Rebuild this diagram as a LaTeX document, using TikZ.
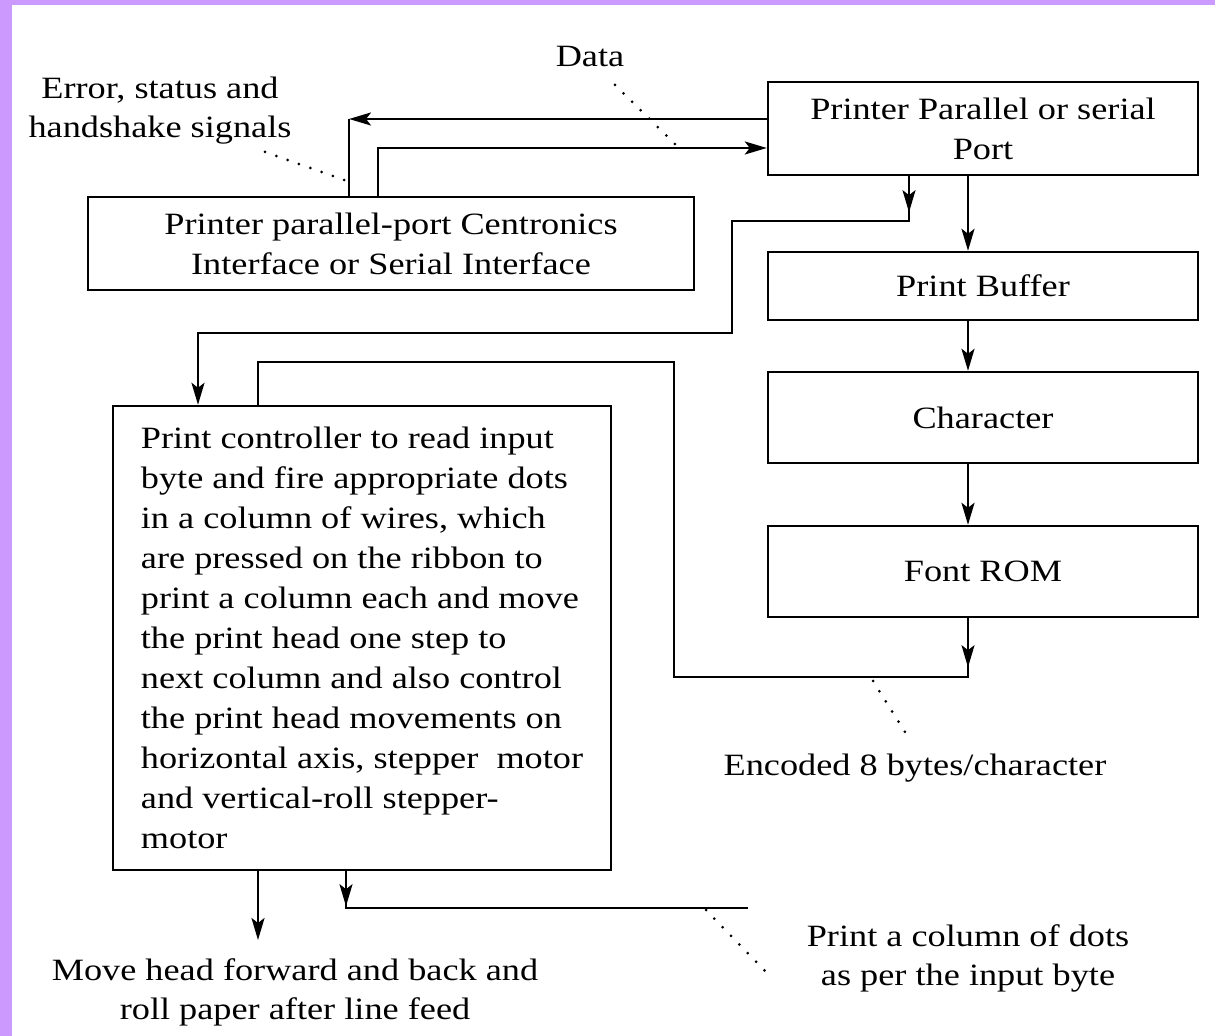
\documentclass[tikz,border=0pt]{standalone}
\usepackage{fontspec}
\setmainfont{Liberation Serif}[FakeStretch=1.17]
\usetikzlibrary{arrows.meta,calc}
\definecolor{framepurple}{RGB}{204,153,255}

\begin{document}
\begin{tikzpicture}[x=0.5pt,y=-0.5pt,
	box/.style={draw, line width=1.2pt, inner sep=0pt, align=center, font=\fontsize{15.5}{20}\selectfont},
	lbl/.style={inner sep=0pt, align=center, font=\fontsize{15.5}{19.5}\selectfont},
	wire/.style={line width=1.2pt},
	arr/.style={line width=1.2pt, -{Stealth[length=11pt,width=6.5pt,inset=2.5pt]}},
	leader/.style={line width=1.5pt, dash pattern=on 0pt off 6pt, line cap=round}]
			%%%%% START %%%%%
			
			\useasboundingbox (0, 0) rectangle (1215, 1036);
			\fill[white] (0, 0) rectangle (1215, 1036);
			\fill[framepurple] (0, 0) rectangle (1215, 5);
			\fill[framepurple] (0, 0) rectangle (12, 1036);
			
			\node[box, minimum width=215pt, minimum height=46.5pt] (port) at (983, 128.5) {Printer Parallel or serial\\Port};
			\node[box, minimum width=303pt, minimum height=46.5pt] (iface) at (391, 243.5) {Printer parallel-port Centronics\\Interface or Serial Interface};
			\node[box, minimum width=215pt, minimum height=34pt] (buffer) at (983, 286) {Print Buffer};
			\node[box, minimum width=215pt, minimum height=45.5pt] (charbox) at (983, 417.5) {Character};
			\node[box, minimum width=215pt, minimum height=45.5pt] (fontrom) at (983, 571.5) {Font ROM};
			\node[box, align=left, minimum width=249pt, minimum height=232pt] (ctrl) at (362, 638) {Print controller to read input\\byte and fire appropriate dots\\in a column of wires, which\\are pressed on the ribbon to\\print a column each and move\\the print head one step to\\next column and also control\\the print head movements on\\horizontal axis, stepper\ \ motor\\and vertical-roll stepper-\\motor};
			
			\node[lbl] (errlbl) at (160, 111) {Error, status and\\handshake signals};
			\node[lbl] (datalbl) at (590, 57) {Data};
			\node[lbl] (enclbl) at (915, 768) {Encoded 8 bytes/character};
			\node[lbl] (dotlbl) at (968, 958) {Print a column of dots\\as per the input byte};
			\node[lbl] (movelbl) at (295, 992) {Move head forward and back and\\roll paper after line feed};
			
			\coordinate (c1) at (349, 119);
			\coordinate (c2) at (378, 148);
			\coordinate (c3) at (968, 677);
			\coordinate (c4) at (674, 362);
			\coordinate (c5) at (258, 362);
			\coordinate (c6) at (909, 221);
			\coordinate (c7) at (732, 333);
			\coordinate (c8) at (198, 333);
			\coordinate (c9) at (258, 940);
			\coordinate (c10) at (346, 908);
			\coordinate (c11) at (748, 908);
			
			% port and interface
			\draw[arr] (port.west |- c1) -- (c1);
			\draw[wire] (c1) -- (iface.north -| c1);
			\draw[arr] (iface.north -| c2) -- (c2) -- (port.west |- c2);
			
			% right column
			\draw[arr] (port.south -| c3) -- (buffer.north -| c3);
			\draw[arr] (buffer.south -| c3) -- (charbox.north -| c3);
			\draw[arr] (charbox.south -| c3) -- (fontrom.north -| c3);
			\draw[arr] (fontrom.south -| c3) -- ++(0, 49);
			\draw[wire] (fontrom.south -| c3) -- (c3) -| (c4) -- (c5) -- (ctrl.north -| c5);
			
			% port to controller
			\draw[arr] (port.south -| c6) -- ++(0, 36);
			\draw[arr] (port.south -| c6) -- (c6) -| (c7) -- (c8) -- (ctrl.north -| c8);
			
			% controller outputs
			\draw[arr] (ctrl.south -| c9) -- (c9);
			\draw[arr] (ctrl.south -| c10) -- ++(0, 35);
			\draw[wire] (ctrl.south -| c10) -- (c10) -- (c11);
			
			% dotted leaders
			\draw[leader] (265, 152) -- (347, 181);
			\draw[leader] (615, 85) -- (677, 146);
			\draw[leader] (873, 681) -- (910, 740);
			\draw[leader] (706, 910) -- (766, 972);
			
			%%%%% END %%%%%
		\end{tikzpicture}
\end{document}
